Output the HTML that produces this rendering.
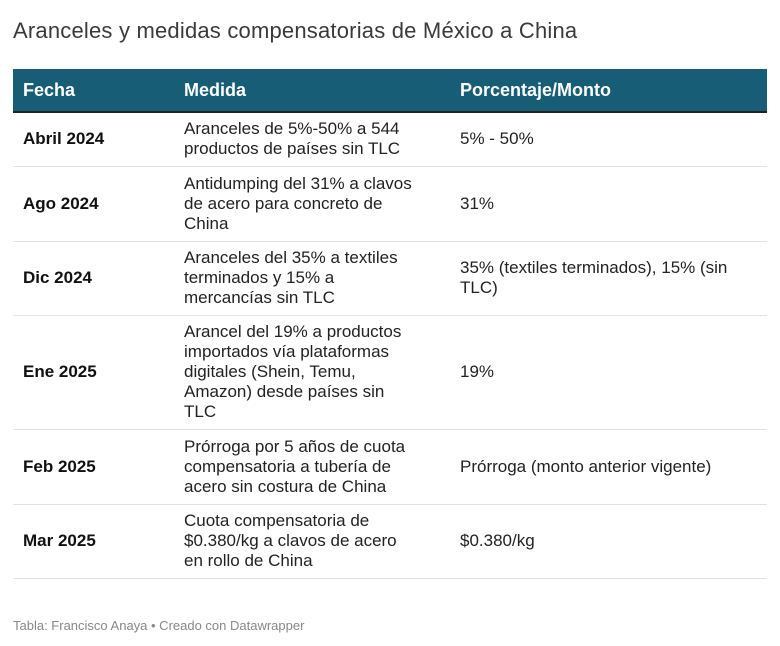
<!DOCTYPE html>
<html><head><meta charset="utf-8"><style>
body{margin:0;width:780px;height:646px;background:#fff;font-family:"Liberation Sans",sans-serif;color:#222;position:relative;overflow:hidden}
h1{position:absolute;left:13px;top:18px;margin:0;font-weight:normal;font-size:22px;color:#3a3a3a;letter-spacing:0.2px}
table{position:absolute;left:13px;top:69px;width:754px;border-collapse:collapse;font-size:17px;table-layout:fixed}
th{background:#175d76;color:#fff;text-align:left;font-weight:bold;height:42px;padding:0 10px;border-bottom:2px solid #222;font-size:18px}
td{padding:0 10px;border-bottom:1px solid #e2e2e2;line-height:20px;vertical-align:middle}
td.f{font-weight:bold;color:#111}
.c1{width:141px}.c2{width:236px;padding-right:30px}
td.m{padding-right:30px}
#foot{position:absolute;left:13px;top:618px;font-size:13px;color:#888}
</style></head><body>
<h1>Aranceles y medidas compensatorias de México a China</h1>
<table>
<tr><th class="c1">Fecha</th><th class="c2">Medida</th><th>Porcentaje/Monto</th></tr>
<tr style="height:54px"><td class="f">Abril 2024</td><td class="m">Aranceles de 5%-50% a 544 productos de países sin TLC</td><td>5% - 50%</td></tr>
<tr style="height:75px"><td class="f">Ago 2024</td><td class="m">Antidumping del 31% a clavos de acero para concreto de China</td><td>31%</td></tr>
<tr style="height:74px"><td class="f">Dic 2024</td><td class="m">Aranceles del 35% a textiles terminados y 15% a mercancías sin TLC</td><td>35% (textiles terminados), 15% (sin TLC)</td></tr>
<tr style="height:114px"><td class="f">Ene 2025</td><td class="m">Arancel del 19% a productos importados vía plataformas digitales (Shein, Temu, Amazon) desde países sin TLC</td><td>19%</td></tr>
<tr style="height:75px"><td class="f">Feb 2025</td><td class="m">Prórroga por 5 años de cuota compensatoria a tubería de acero sin costura de China</td><td>Prórroga (monto anterior vigente)</td></tr>
<tr style="height:74px"><td class="f">Mar 2025</td><td class="m">Cuota compensatoria de $0.380/kg a clavos de acero en rollo de China</td><td>$0.380/kg</td></tr>
</table>
<div id="foot">Tabla: Francisco Anaya • Creado con Datawrapper</div>
</body></html>
